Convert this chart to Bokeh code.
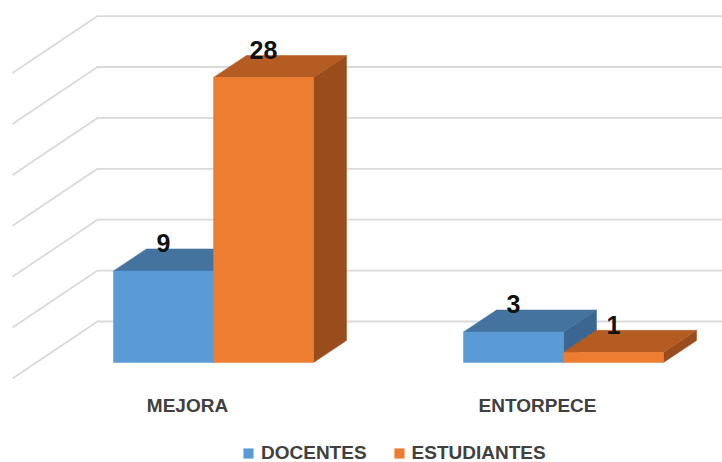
from bokeh.plotting import figure
from bokeh.models import Range1d, Legend, LegendItem
from bokeh.core.properties import value
from bokeh.embed import file_html
from bokeh.resources import INLINE

# ---- data ----
categories = ["MEJORA", "ENTORPECE"]
series_names = ["DOCENTES", "ESTUDIANTES"]
docentes = [9, 3]
estudiantes = [28, 1]
grid_values = [0, 5, 10, 15, 20, 25, 30]

# ---- style / 3D layout constants ----
BAR_W = 1.0
CAT_STEP = 3.5
DX, DY = 0.33, 2.16          # bar depth offset
WALL_X0 = -1.16              # left edge of back wall
WALL_DY = 4.03               # back wall raised vs front plane
SIDE_DX, SIDE_DY = -0.85, -5.6
COLORS = {
    "DOCENTES": ("#5B9BD5", "#44739F", "#3B6692"),
    "ESTUDIANTES": ("#ED7D31", "#B55C22", "#9A4D1C"),
}
FONT = "Liberation Sans"

p = figure(width=722, height=462, x_range=Range1d(-2.13, 5.09),
           y_range=Range1d(-9.82, 35.56), output_backend="svg",
           toolbar_location=None, min_border=0,
           x_axis_location=None, y_axis_location=None)
p.grid.visible = False
p.outline_line_color = None
p.background_fill_color = "white"

# back wall + side wall gridlines
gx, gy = [], []
for v in grid_values:
    gx.append([WALL_X0 + SIDE_DX, WALL_X0, 6.0])
    gy.append([v + WALL_DY + SIDE_DY, v + WALL_DY, v + WALL_DY])
p.multi_line(gx, gy, line_color="#D9D9D9", line_width=1.8)

centers = [i * CAT_STEP for i in range(len(categories))]

front_renderers = {}
for s_idx, (name, vals) in enumerate(zip(series_names, [docentes, estudiantes])):
    front_c, top_c, side_c = COLORS[name]
    left, right, top, bottom = [], [], [], []
    top_xs, top_ys, side_xs, side_ys = [], [], [], []
    for c, h in zip(centers, vals):
        x0 = c - BAR_W + s_idx * BAR_W
        x1 = x0 + BAR_W
        left.append(x0); right.append(x1); top.append(h); bottom.append(0)
        top_xs.append([x0, x1, x1 + DX, x0 + DX])
        top_ys.append([h, h, h + DY, h + DY])
        side_xs.append([x1, x1 + DX, x1 + DX, x1])
        side_ys.append([0, DY, h + DY, h])
    p.patches(side_xs, side_ys, fill_color=side_c, line_color=side_c, line_width=0.5)
    p.patches(top_xs, top_ys, fill_color=top_c, line_color=top_c, line_width=0.5)
    r = p.quad(left=left, right=right, top=top, bottom=bottom,
               fill_color=front_c, line_color=front_c, line_width=0.5)
    front_renderers[name] = r

# data labels
lx, ly, lt = [], [], []
for s_idx, vals in enumerate([docentes, estudiantes]):
    for c, h in zip(centers, vals):
        lx.append(c - BAR_W / 2 + s_idx * BAR_W)
        ly.append(h + 2.7)
        lt.append(str(h))
p.text(x=lx, y=ly, text=lt, text_font=value(FONT), text_font_size="25px",
       text_font_style="bold", text_color="#111111",
       text_align="center", text_baseline="middle")

# category labels
p.text(x=[c - 0.26 for c in centers], y=[-4.22] * len(centers), text=categories,
       text_font=value(FONT), text_font_size="19px", text_font_style="bold",
       text_color="#404040", text_align="center", text_baseline="middle")

legend = Legend(items=[LegendItem(label=n, renderers=[front_renderers[n]]) for n in series_names],
                orientation="horizontal", location=(242, -2),
                border_line_color=None, background_fill_alpha=0,
                padding=0, margin=0, spacing=26,
                glyph_width=12, glyph_height=12, label_standoff=7,
                label_text_font=FONT, label_text_font_size="19px",
                label_text_font_style="bold", label_text_color="#404040")
p.add_layout(legend)

open("out.html", "w").write(file_html(p, INLINE))
